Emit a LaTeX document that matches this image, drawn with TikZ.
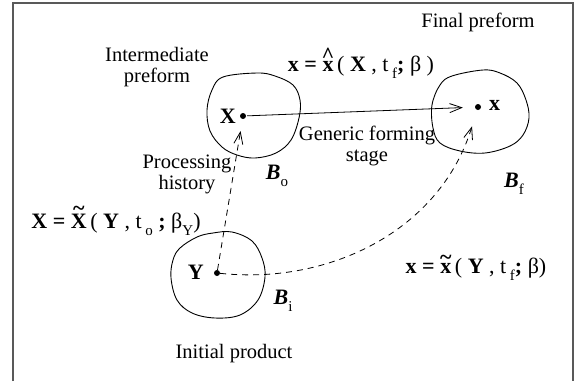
\documentclass[tikz,border=0pt]{standalone}
\usepackage{fontspec}
\setmainfont{Liberation Serif}
\usetikzlibrary{arrows.meta}
\newcommand\overmark[3]{\setbox0=\hbox{#1}\hbox{\rlap{\hbox to\wd0{\hss\raisebox{#3}{#2}\hss}}\box0}}
\newcommand\lowsub[1]{\raisebox{-0.32em}{\fontsize{15}{15}\selectfont #1}}
\newcommand\bsym[1]{\textbf{\textit{#1}}}
\begin{document}
\begin{tikzpicture}[x=1pt,y=-1pt,
  lbl/.style={font=\fontsize{20.5}{21}\selectfont, inner sep=0pt, align=center},
  eq/.style={font=\fontsize{22}{22}\selectfont, inner sep=0pt},
  blob/.style={draw=black, line width=0.9pt},
  pt/.style={circle, fill=black, inner sep=0pt, minimum size=6pt},
  tip/.style={-{Straight Barb[length=12pt,width=9pt,line width=0.8pt]}},
  dsh/.style={dash pattern=on 6pt off 5pt, line width=0.8pt}]
\useasboundingbox (0,0) rectangle (580,381);
% frame
\draw[black!65, line width=1.3pt] (13,381) -- (13,3) -- (573,3) -- (573,381);
% blobs
\draw[blob] plot[smooth cycle, tension=0.6] coordinates {(223,77) (257,73) (275,76) (293,85) (300,100) (299,118) (291,140) (276,153) (255,158) (237,155) (222,147) (210,131) (207,110) (212,90)};
\draw[blob] plot[smooth cycle, tension=0.6] coordinates {(440,85) (452,76) (483,70) (500,73) (517,83) (526,100) (529,118) (523,135) (510,146) (485,153) (460,151) (440,143) (433,128) (432,105)};
\draw[blob] plot[smooth cycle, tension=0.6] coordinates {(180,248) (197,237) (213,233) (232,232) (252,241) (262,258) (265,277) (258,300) (240,315) (215,318) (192,313) (177,300) (171,278) (173,260)};
% points
\node[pt] (X) at (243,116) {};
\node[pt] (x) at (478,107) {};
\node[pt] (Y) at (217,273) {};
\node[eq, anchor=east] (Xl) at (236,116) {\textbf{X}};
\node[eq, anchor=west] (xl) at (489,105) {\textbf{x}};
\node[eq, anchor=east] (Yl) at (204,272) {\textbf{Y}};
% connectors
\draw[tip, line width=0.8pt, shorten >=12pt, shorten <=1pt] (X) -- (x);
\draw[tip, dsh, shorten >=12pt] (Y) -- (X);
\draw[tip, dsh, shorten >=17pt] (Y) .. controls (330,285) and (440,230) .. (x);
% body labels
\node[eq] (Bo) at (277,176) {\bsym{B}\lowsub{o}};
\node[eq] (Bf) at (514,184) {\bsym{B}\lowsub{f}};
\node[eq] (Bi) at (283,301) {\bsym{B}\lowsub{i}};
% text labels
\node[lbl] (fin) at (478,22) {Final preform};
\node[lbl] (int) at (157,67) {Intermediate\\preform};
\node[lbl] (gen) at (367,146) {Generic forming\\stage};
\node[lbl] (proc) at (187,174) {Processing\\history};
\node[lbl] (ini) at (234,354) {Initial product};
% equations
\node[eq] (e1) at (361,63) {\textbf{x = }\overmark{\textbf{x}}{\textbf{\textasciicircum}}{0.42em}\,( \textbf{X} , t\,\lowsub{f}\textbf{;} β )};
\node[eq] (e2) at (116,221) {\textbf{X = }\overmark{\textbf{X}}{\textbf{\textasciitilde}}{0.62em}\,( \textbf{Y} , t\,\lowsub{o} \textbf{;} β\lowsub{Y})};
\node[eq] (e3) at (476,268) {\textbf{x = }\overmark{\textbf{x}}{\textbf{\textasciitilde}}{0.42em}\,( \textbf{Y} , t\,\lowsub{f}\textbf{;} β)};
\end{tikzpicture}
\end{document}
